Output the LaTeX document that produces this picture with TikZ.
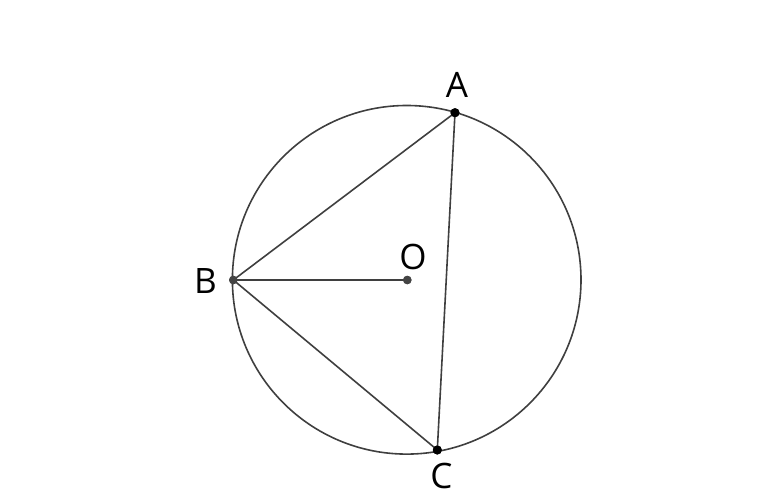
\documentclass[tikz,border=0pt]{standalone}
\usepackage{fontspec}
\setmainfont{Open Sans}
\definecolor{linegray}{HTML}{3F3F3F}
\definecolor{dotgray}{HTML}{444444}
\begin{document}
\begin{tikzpicture}[x=1pt,y=-1pt,
  geo/.style={draw=linegray,line width=1.6pt},
  dotblack/.style={circle,fill=black,inner sep=0pt,minimum size=9pt},
  dotgrey/.style={circle,fill=dotgray,inner sep=0pt,minimum size=8.5pt},
  lbl/.style={inner sep=0pt,font=\fontsize{35}{35}\selectfont}]
\useasboundingbox (0,0) rectangle (780,500);
\coordinate (Oc) at (406.7,279.8);
\draw[geo] (Oc) circle [radius=174.3];
\node[dotblack] (A) at (455,112.7) {};
\node[dotgrey] (B) at (233.3,280) {};
\node[dotgrey] (O) at (407.3,280) {};
\node[dotblack] (C) at (437.3,450) {};
\draw[geo] (B.center) -- (A.center) -- (C.center) -- (B.center);
\draw[geo] (B.center) -- (O.center);
\node[dotblack] at (A) {};
\node[dotgrey] at (B) {};
\node[dotgrey] at (O) {};
\node[dotblack] at (C) {};
\node[lbl] (la) at (457,85) {A};
\node[lbl] (lb) at (205.5,281) {B};
\node[lbl] (lo) at (413,257) {O};
\node[lbl] (lc) at (441.5,476) {C};
\end{tikzpicture}
\end{document}
